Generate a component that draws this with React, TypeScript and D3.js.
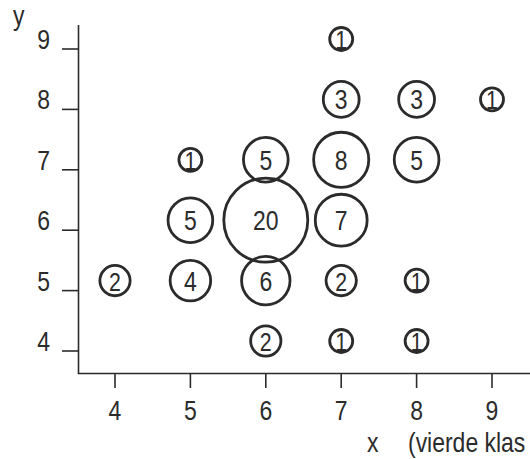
import React from "react";
import * as d3 from "d3";

const xTicks = [4, 5, 6, 7, 8, 9];
const yTicks = [4, 5, 6, 7, 8, 9];
const xs = [7, 7, 8, 9, 5, 6, 7, 8, 5, 6, 7, 4, 5, 6, 7, 8, 6, 7, 8];
const ys = [9, 8, 8, 8, 7, 7, 7, 7, 6, 6, 6, 5, 5, 5, 5, 5, 4, 4, 4];
const counts = [1, 3, 3, 1, 1, 5, 8, 5, 5, 20, 7, 2, 4, 6, 2, 1, 2, 1, 1];
const xLabel = "x";
const xLabel2 = "(vierde klas";
const yLabel = "y";

const W = 530;
const H = 459;
const FONT = "'Liberation Sans', Arial, sans-serif";
const INK = "#2b2b2b";
const SX = 0.82;

function T({ x, y, anchor = "start", size = 28, sx = SX, children }: any) {
  return (
    <text
      transform={`translate(${x},${y}) scale(${sx},1)`}
      textAnchor={anchor}
      fontSize={size}
      fill={INK}
    >
      {children}
    </text>
  );
}

export default function App() {
  const x = d3.scaleLinear().domain([4, 9]).range([115, 492]);
  const y = d3.scaleLinear().domain([4, 9]).range([351, 49]);
  const r = d3.scaleSqrt().domain([1, 20]).range([11.5, 42]);
  const axisX = 78.5;
  const axisY = 373.5;
  const lift = 10;

  return (
    <svg
      width={W}
      height={H}
      style={{ position: "absolute", left: 0, top: 0, background: "#fff" }}
      fontFamily={FONT}
    >
      <rect width={W} height={H} fill="#fff" />
      <line x1={axisX} y1={25} x2={axisX} y2={axisY} stroke={INK} strokeWidth={1.6} />
      <line x1={axisX - 0.8} y1={axisY} x2={W} y2={axisY} stroke={INK} strokeWidth={1.6} />
      {yTicks.map((t) => (
        <g key={"y" + t}>
          <line x1={62} x2={axisX} y1={y(t)} y2={y(t)} stroke={INK} strokeWidth={1.6} />
          <T x={50} y={y(t)} anchor="end">{t}</T>
        </g>
      ))}
      {xTicks.map((t) => (
        <g key={"x" + t}>
          <line x1={x(t)} x2={x(t)} y1={axisY} y2={388} stroke={INK} strokeWidth={1.6} />
          <T x={x(t)} y={420} anchor="middle">{t}</T>
        </g>
      ))}
      <T x={13} y={25}>{yLabel}</T>
      <T x={367} y={452}>{xLabel}</T>
      <T x={408} y={452} sx={0.82}>{xLabel2}</T>
      {counts.map((n, i) => {
        const cx = x(xs[i]);
        const cy = y(ys[i]) - lift;
        return (
          <g key={"c" + i}>
            <circle cx={cx} cy={cy} r={r(n)} fill="none" stroke={INK} strokeWidth={2.8} />
            <T x={cx} y={cy + 10} anchor="middle" size={n <= 2 ? 26 : 28}>
              {n}
            </T>
          </g>
        );
      })}
    </svg>
  );
}
